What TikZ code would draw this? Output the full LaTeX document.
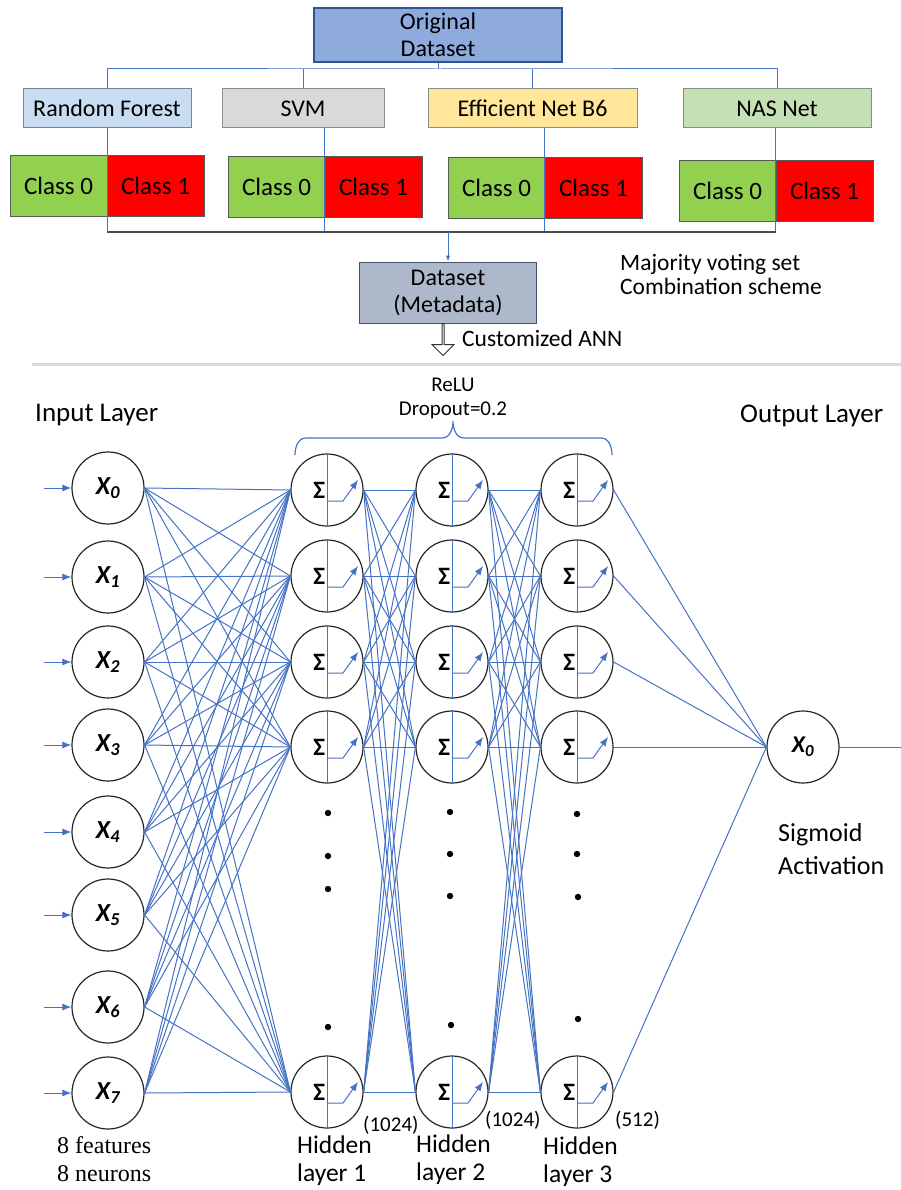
\documentclass[tikz,border=0pt]{standalone}
\usepackage{fontspec}
\setmainfont{Carlito}
\newfontfamily\timesfont{Liberation Serif}
\usetikzlibrary{arrows.meta,shapes.arrows}

\definecolor{linkblue}{HTML}{4472C4}
\definecolor{origfill}{HTML}{8FAADC}
\definecolor{origline}{HTML}{2F5597}
\definecolor{rffill}{HTML}{C9DDF2}
\definecolor{svmfill}{HTML}{D9D9D9}
\definecolor{enfill}{HTML}{FFE699}
\definecolor{nasfill}{HTML}{C5E0B4}
\definecolor{zerofill}{HTML}{92D050}
\definecolor{onefill}{HTML}{FF0000}
\definecolor{metafill}{HTML}{ADB9CA}
\definecolor{metaline}{HTML}{44546A}
\definecolor{sepgray}{HTML}{D9D9D9}

\newcommand{\sigmark}{\makebox[0pt][r]{\fontsize{25}{25}\selectfont\bfseries Σ\kern2pt}}
\newcommand{\xlab}[1]{\textbf{\textit{X\textsubscript{#1}}}}

\tikzset{
  neuron/.style={circle, draw=black!85, line width=1.2pt, minimum size=72pt, inner sep=0pt,
    font=\fontsize{26}{26}\selectfont},
  link/.style={draw=linkblue, line width=1pt},
  mbox/.style={draw=black!45, line width=1pt, minimum height=39pt, inner sep=0pt,
    font=\fontsize{24}{27}\selectfont},
  clsbox/.style={draw=black!65, line width=0.8pt, minimum width=97pt, minimum height=61pt,
    inner sep=0pt, font=\fontsize{25}{27}\selectfont},
  bigtext/.style={anchor=west, align=left, inner sep=0pt, font=\fontsize{27}{33}\selectfont},
  midtext/.style={anchor=west, align=left, inner sep=0pt, font=\fontsize{23.5}{24}\selectfont},
  smalltext/.style={anchor=west, inner sep=0pt, font=\fontsize{21}{24}\selectfont}
}

\begin{document}
\begin{tikzpicture}[x=1pt,y=-1pt]
\useasboundingbox (0,0) rectangle (901,1190);

\node[mbox, fill=origfill, draw=origline, line width=1.5pt, minimum width=248pt, minimum height=54pt, align=center] (orig) at (438,35) {Original\\Dataset};
\node[mbox, fill=rffill, draw=black!40!rffill, minimum width=168pt] (rf) at (107,108.5) {Random Forest};
\node[mbox, fill=svmfill, minimum width=162pt] (svm) at (303,108.5) {SVM};
\node[mbox, fill=enfill, minimum width=209pt] (en) at (532.5,108.5) {Efficient Net B6};
\node[mbox, fill=nasfill, minimum width=188pt] (nas) at (777,108.5) {NAS Net};

\node[clsbox, fill=zerofill] (rf0) at (58.5,186) {Class 0};
\node[clsbox, fill=onefill] (rf1) at (155.5,186) {Class 1};
\node[clsbox, fill=zerofill] (svm0) at (276.5,186.5) {Class 0};
\node[clsbox, fill=onefill] (svm1) at (373.5,186.5) {Class 1};
\node[clsbox, fill=zerofill] (en0) at (496.5,187.5) {Class 0};
\node[clsbox, fill=onefill] (en1) at (593.5,187.5) {Class 1};
\node[clsbox, fill=zerofill] (nas0) at (727.5,191) {Class 0};
\node[clsbox, fill=onefill] (nas1) at (824.5,191) {Class 1};

\coordinate (bus) at (438,69);
\coordinate (vote) at (448,232);
\draw[link] (orig.south) -- (bus);
\draw[link] (rf.north) |- (bus) -| (nas.north);
\draw[link] (svm.north) -- (svm.north |- bus);
\draw[link] (en.north) -- (en.north |- bus);

\draw[link] (rf.south) -- (rf.south |- vote);
\draw[link] (svm1.west |- svm.south) -- (svm1.west |- vote);
\draw[link] (en1.west |- en.south) -- (en1.west |- vote);
\draw[link] (nas1.west |- nas.south) -- (nas1.west |- vote);
\draw[draw=black!70, line width=1.2pt] (rf.south |- vote) -- (nas1.west |- vote);

\node[mbox, fill=metafill, draw=metaline, minimum width=177pt, minimum height=61pt, align=center] (meta) at (448,292.5) {Dataset\\(Metadata)};
\draw[link, -{Latex[length=6pt]}] (vote) -- (meta.north);
\node[midtext] (vote label) at (620,274) {Majority voting set\\Combination scheme};

\node[single arrow, draw=black!80, line width=1pt, fill=white, shape border rotate=270,
  minimum height=32pt, minimum width=22pt, single arrow head extend=5pt, inner sep=0pt] (annarrow) at (443,339) {};
\node[midtext] (ann) at (462,338) {Customized ANN};

\draw[draw=sepgray, line width=3pt] (32,364) -- (901,364);

\node[align=center, inner sep=0pt, font=\fontsize{21}{24}\selectfont] (relu) at (453,398) {ReLU\\Dropout=0.2};
\draw[link, line width=1.2pt] (295,455) to[out=90,in=180] (306,438) -- (442,438)
  to[out=0,in=-90] (453,421) to[out=-90,in=180] (464,438) -- (601,438) to[out=0,in=90] (612,455);

\node[bigtext] (inlab) at (35,415) {Input Layer};
\node[bigtext] (outlab) at (740,416) {Output Layer};
\node[bigtext, font=\fontsize{26}{33}\selectfont] (sigmoid) at (778,849) {Sigmoid\\Activation};

\foreach \i/\y in {0/488,1/577,2/662,3/745,4/832,5/915,6/1007,7/1093}{
  \node[neuron] (in\i) at (108,\y) {\xlab{\i}};
  \coordinate (src\i) at (44,\y);
  \draw[link, -{Latex[length=9pt,width=7pt]}] (src\i) -- (in\i.west);
}

\foreach \l/\x in {1/327,2/452,3/577}
  \foreach \k/\y in {1/490,2/576,3/662,4/747,5/1092}
    \node[neuron] (h\l\k) at (\x,\y) {\sigmark};

\node[neuron, font=\fontsize{24}{24}\selectfont] (out) at (803,747) {\xlab{0}};
\coordinate (sink) at (901,747);

\foreach \i in {0,...,7}
  \foreach \k in {1,...,5}
    \draw[link] (in\i.east) -- (h1\k.west);
\foreach \j in {1,...,5}
  \foreach \k in {1,...,5}{
    \draw[link] (h1\j.east) -- (h2\k.west);
    \draw[link] (h2\j.east) -- (h3\k.west);
  }
\foreach \k in {1,...,5}
  \draw[link] (h3\k.east) -- (out.west);
\draw[link] (out.east) -- (sink);

\foreach \l in {1,2,3}
  \foreach \k in {1,...,5}{
    \draw[link] (h\l\k.north) -- (h\l\k.south);
    \draw[link, -{Latex[length=9pt,width=7pt]}] ([yshift=-11pt]h\l\k.center) -- ++(16,0) -- ++(15,-21);
  }

\foreach \x/\y in {328/813,328/856,328/889,328/1027,450/812,450/854,450/896,451/1025,577/814,577/854,578/897,578/1019}
  \fill (\x,\y) circle[radius=3.2pt];

\node[anchor=west, align=left, inner sep=0pt, font=\timesfont\fontsize{24}{28}\selectfont] (feat) at (57,1159) {8 features\\8 neurons};
\node[bigtext, font=\fontsize{25.5}{28}\selectfont] (hl1) at (297,1161) {Hidden\\layer 1};
\node[bigtext, font=\fontsize{25.5}{28}\selectfont] (hl2) at (416,1160) {Hidden\\layer 2};
\node[bigtext, font=\fontsize{25.5}{28}\selectfont] (hl3) at (543,1162) {Hidden\\layer 3};
\node[smalltext] (n1) at (363,1125) {(1024)};
\node[smalltext] (n2) at (485,1120) {(1024)};
\node[smalltext] (n3) at (615,1120) {(512)};
\end{tikzpicture}
\end{document}
